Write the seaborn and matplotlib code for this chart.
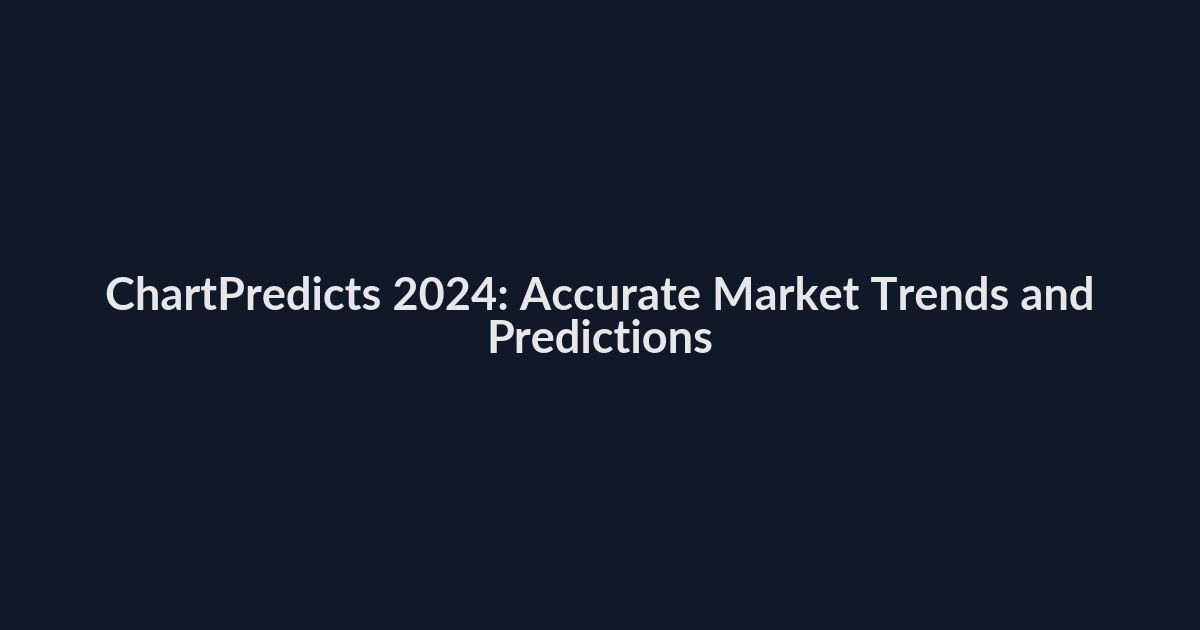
import matplotlib
matplotlib.use("Agg")
import matplotlib.pyplot as plt
import seaborn as sns

title_lines = ["ChartPredicts 2024: Accurate Market Trends and", "Predictions"]
bg_color = "#111827"
text_color = "#e5e7eb"

sns.set_theme(style="dark", rc={"figure.facecolor": bg_color, "axes.facecolor": bg_color})
plt.rcParams['font.family'] = ['Lato', 'DejaVu Sans']

fig = plt.figure(figsize=(12, 6.3), dpi=100)
ax = fig.add_axes([0, 0, 1, 1])
ax.set_axis_off()
ax.set_xlim(0, 1)
ax.set_ylim(0, 1)
ax.text(0.5, 1 - 297 / 630, title_lines[0], ha="center", va="center",
        fontsize=32.5, fontweight="bold", color=text_color)
ax.text(0.5, 1 - 340 / 630, title_lines[1], ha="center", va="center",
        fontsize=32.5, fontweight="bold", color=text_color)
fig.savefig("out.png", dpi=100, facecolor=bg_color)
